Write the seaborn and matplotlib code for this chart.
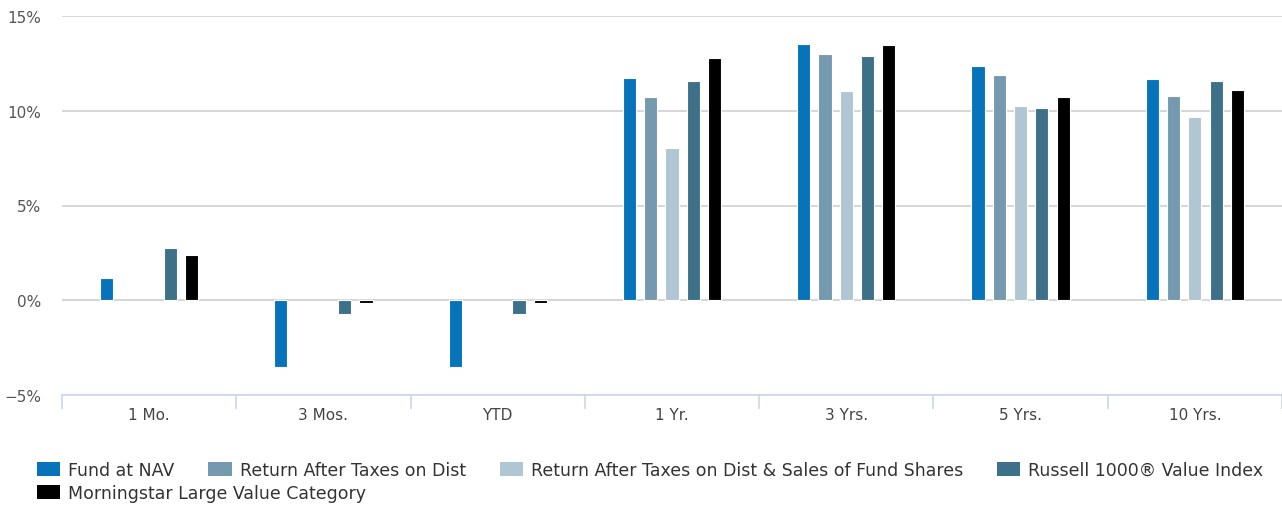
import matplotlib
matplotlib.use("Agg")
import matplotlib.pyplot as plt
import matplotlib.ticker as mticker
from matplotlib.patches import Patch
import seaborn as sns
import pandas as pd
import numpy as np

# periods on the x axis
periods = ["1 Mo.", "3 Mos.", "YTD", "1 Yr.", "3 Yrs.", "5 Yrs.", "10 Yrs."]

# series, values in percent (NaN = not shown)
series_names = [
    "Fund at NAV",
    "Return After Taxes on Dist",
    "Return After Taxes on Dist & Sales of Fund Shares",
    "Russell 1000\u00ae Value Index",
    "Morningstar Large Value Category",
]
fund_nav = [1.18, -3.52, -3.52, 11.73, 13.52, 12.35, 11.66]
after_tax_dist = [np.nan, np.nan, np.nan, 10.71, 12.98, 11.87, 10.78]
after_tax_sales = [np.nan, np.nan, np.nan, 8.03, 11.04, 10.23, 9.67]
russell_1000v = [2.76, -0.74, -0.74, 11.59, 12.89, 10.16, 11.59]
ms_large_value = [2.41, -0.16, -0.16, 12.77, 13.45, 10.71, 11.11]

colors = ["#0773bb", "#7599af", "#b0c6d3", "#3c7189", "#000000"]

all_values = [fund_nav, after_tax_dist, after_tax_sales, russell_1000v, ms_large_value]
rows = []
for name, vals in zip(series_names, all_values):
    for p, v in zip(periods, vals):
        rows.append({"period": p, "series": name, "value": v})
df = pd.DataFrame(rows)

sns.set_style("white")
plt.rcParams["font.family"] = ["DejaVu Sans"]

fig = plt.figure(figsize=(12.82, 5.06), dpi=100)
ax = fig.add_axes([62 / 1282, 1 - 396 / 506, 1 - 62 / 1282, (396 - 17) / 506])

sns.barplot(
    data=df, x="period", y="value", hue="series",
    order=periods, hue_order=series_names, palette=colors, saturation=1,
    width=0.61, gap=0.38, edgecolor="white", linewidth=0.8,
    errorbar=None, legend=False, ax=ax, zorder=3,
)

ax.set_xlim(-0.5, len(periods) - 0.5)
ax.set_ylim(-5, 15)
ax.set_yticks([-5, 0, 5, 10, 15])
ax.yaxis.set_major_formatter(
    mticker.FuncFormatter(lambda v, _: f"{int(v)}%".replace("-", "\u2212"))
)
ax.grid(axis="y", color="#d0d0d0", linewidth=1.2, zorder=0)
ax.set_axisbelow(True)
for s in ["top", "right", "left"]:
    ax.spines[s].set_visible(False)
ax.spines["bottom"].set_color("#ccd6eb")
ax.spines["bottom"].set_linewidth(1.2)

ax.set_xlabel("")
ax.set_ylabel("")
ax.set_xticks(np.arange(-0.5, len(periods)), minor=True)
ax.tick_params(axis="x", which="major", bottom=True, length=0, pad=9,
               labelsize=11, labelcolor="#444444")
ax.tick_params(axis="x", which="minor", bottom=True, length=10, width=1.2, color="#ccd6eb")
ax.tick_params(axis="y", length=0, pad=15, labelsize=11, labelcolor="#555555")

handles = [Patch(facecolor=c, edgecolor="none") for c in colors]
leg_kw = dict(frameon=False, fontsize=12.5, handlelength=1.35, handleheight=0.85,
              handletextpad=0.45, columnspacing=1.95, borderaxespad=0, borderpad=0)
leg1 = fig.legend(handles[:4], series_names[:4], ncol=4,
                  loc="center left", bbox_to_anchor=(37 / 1282, 1 - 471 / 506), **leg_kw)
leg2 = fig.legend(handles[4:], series_names[4:], ncol=1,
                  loc="center left", bbox_to_anchor=(37 / 1282, 1 - 494 / 506), **leg_kw)
for leg in (leg1, leg2):
    for t in leg.get_texts():
        t.set_color("#333333")

fig.savefig("out.png", dpi=100)
